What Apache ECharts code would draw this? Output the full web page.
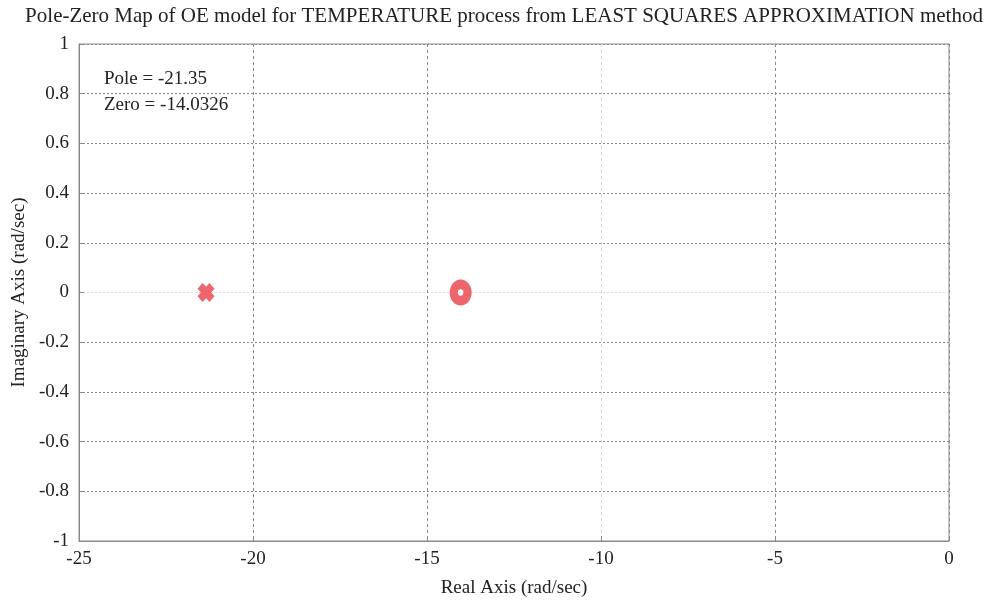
<!DOCTYPE html>
<html><head><meta charset="utf-8">
<script src="https://cdn.jsdelivr.net/npm/echarts@6/dist/echarts.min.js"></script>
<style>html,body{margin:0;padding:0;background:#fff}#c{width:993px;height:600px}</style>
</head><body><div id="c"></div>
<script>
var titleText = 'Pole-Zero Map of OE model for TEMPERATURE process from LEAST SQUARES APPROXIMATION method';
var xAxisName = 'Real Axis (rad/sec)';
var yAxisName = 'Imaginary Axis (rad/sec)';
var poleReal = [-21.35];
var poleImag = [0];
var zeroReal = [-14.0326];
var zeroImag = [0];
var annotations = ['Pole = -21.35', 'Zero = -14.0326'];
var xMin = -25, xMax = 0, xStep = 5;
var yMin = -1, yMax = 1, yStep = 0.2;

var FONT = 'Liberation Serif';
var red = '#ec666b';
var chart = echarts.init(document.getElementById('c'));
var xPath = 'path://M3,0 L5,2 L7,0 L10,3 L8,5 L10,7 L7,10 L5,8 L3,10 L0,7 L2,5 L0,3 Z';
var oPath = 'path://M0,10 A10,10 0 1,1 20,10 A10,10 0 1,1 0,10 Z M7.5,10 A2.5,2.5 0 1,0 12.5,10 A2.5,2.5 0 1,0 7.5,10 Z';
chart.setOption({
  animation: false,
  title: {text: titleText, left: 499, top: 1, textAlign: 'center',
    textStyle: {fontFamily: FONT, fontWeight: 'normal', fontSize: 21, color: '#222'}},
  grid: {left: 79, right: 44, top: 44, bottom: 59, outerBoundsMode: 'none', containLabel: false,
    show: true, borderColor: '#8a8a8a', borderWidth: 1},
  xAxis: {type: 'value', min: xMin, max: xMax, interval: xStep,
    name: xAxisName, nameLocation: 'middle', nameGap: 38,
    nameTextStyle: {fontFamily: FONT, fontSize: 19, color: '#222'},
    axisLine: {show: true, onZero: false, lineStyle: {color: '#8a8a8a'}},
    axisTick: {show: true, inside: true, length: 5, lineStyle: {color: '#8a8a8a'}},
    axisLabel: {fontFamily: FONT, fontSize: 19, color: '#222', margin: 9},
    splitLine: {show: true, lineStyle: {color: ['#8a8a8a', '#8a8a8a', '#8a8a8a', '#d8d8d8', '#8a8a8a', '#8a8a8a'], type: [3, 3], width: 1}}
  },
  yAxis: {type: 'value', min: yMin, max: yMax, interval: yStep,
    name: yAxisName, nameLocation: 'middle', nameGap: 46,
    nameTextStyle: {fontFamily: FONT, fontSize: 19, color: '#222'},
    axisLine: {show: true, onZero: false, lineStyle: {color: '#8a8a8a'}},
    axisTick: {show: true, inside: true, length: 5, lineStyle: {color: '#8a8a8a'}},
    axisLabel: {fontFamily: FONT, fontSize: 19, color: '#222', margin: 10,
      formatter: function (v) { return String(Math.round(v * 10) / 10); }},
    splitLine: {show: true, lineStyle: {color: ['#8a8a8a','#8a8a8a','#8a8a8a','#8a8a8a','#8a8a8a','#dcdcdc','#8a8a8a','#8a8a8a','#8a8a8a','#8a8a8a','#8a8a8a'], type: [2, 2], width: 1}}
  },
  graphic: [
    {type: 'text', left: 104, top: 70, style: {text: annotations[0], font: '19px "Liberation Serif"', fill: '#222'}},
    {type: 'text', left: 104, top: 96, style: {text: annotations[1], font: '19px "Liberation Serif"', fill: '#222'}}
  ],
  series: [
    {type: 'scatter', name: 'Pole', data: poleReal.map(function (x, i) { return [x, poleImag[i]]; }),
      symbol: xPath, symbolSize: [17, 19], itemStyle: {color: red, opacity: 1}},
    {type: 'scatter', name: 'Zero', data: zeroReal.map(function (x, i) { return [x, zeroImag[i]]; }),
      symbol: oPath, symbolSize: [22, 26], itemStyle: {color: red, opacity: 1}}
  ]
});
</script></body></html>
